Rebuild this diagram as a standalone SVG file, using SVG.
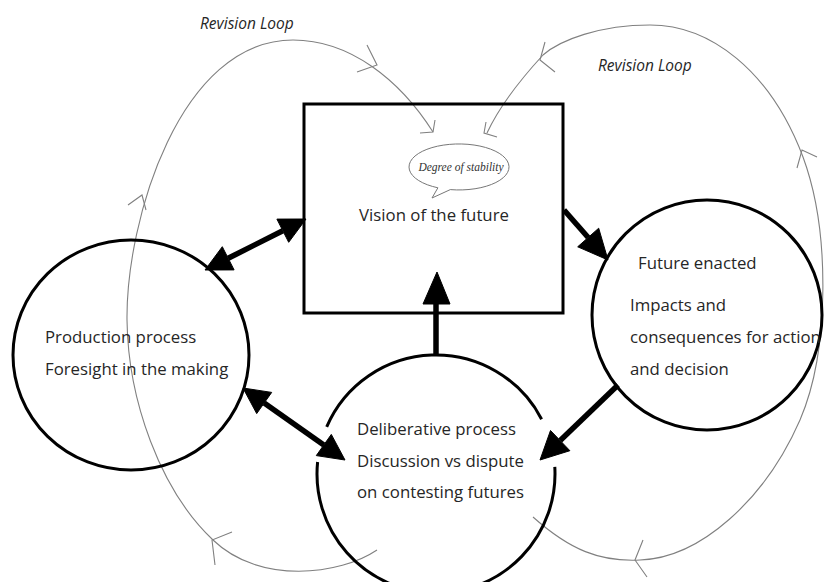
<svg xmlns="http://www.w3.org/2000/svg" width="827" height="582" viewBox="0 0 827 582">
<style>
.node{fill:none;stroke:#000;stroke-width:3}
.loop{fill:none;stroke:#808080;stroke-width:1.1}
.chev{fill:none;stroke:#808080;stroke-width:1.1}
.arrow{stroke:#000;stroke-width:5.5;fill:none}
.head{fill:#000;stroke:#000;stroke-width:1;stroke-linejoin:round}
.lbl{font-family:"Open Sans","Noto Sans","Liberation Sans",sans-serif;font-size:16.8px;fill:#262626}
.loopl{font-family:"Open Sans","Liberation Sans",sans-serif;font-size:15.5px;font-style:italic;fill:#262626}
.small{font-family:"Liberation Serif",serif;font-size:11.5px;font-style:italic;fill:#333}
</style>
<rect width="827" height="582" fill="#fff"/>

<g id="connectors">
  <!-- left revision loop -->
  <path class="loop" d="M 377 550 C 340 575, 260 585, 213 540 C 160 490, 128 400, 127 320 C 126 220, 180 40, 293 40 C 350 40, 400 80, 433 132"/>
  <polyline class="chev" points="435,120 433,132 420,133"/>
  <polyline class="chev" points="367,45 377,65 357,72"/>
  <polyline class="chev" points="128,205 142,195 146,210"/>
  <polyline class="chev" points="232,532 212,540 215,565"/>
  <!-- right revision loop -->
  <path class="loop" d="M 533 517 C 570 550, 600 562, 640 560 C 700 558, 765 500, 800 420 C 830 350, 830 230, 803 157 C 770 70, 710 25, 650 25 C 600 25, 560 40, 543 55 C 520 80, 500 105, 487 133"/>
  <polyline class="chev" points="486,122 484,133 497,137"/>
  <polyline class="chev" points="545,42 540,60 555,72"/>
  <polyline class="chev" points="797,168 802,150 817,157"/>
  <polyline class="chev" points="643,540 635,560 647,577"/>

  <!-- box <-> production -->
  <line class="arrow" x1="282.8" y1="230.7" x2="228.2" y2="258.3"/>
  <polygon class="head" points="306,219 288.7,242.3 276.9,219.1"/>
  <polygon class="head" points="205,270 234.1,269.9 222.3,246.7"/>
  <!-- production <-> deliberative -->
  <line class="arrow" x1="264.2" y1="403" x2="323.8" y2="445"/>
  <polygon class="head" points="243,388 256.7,413.6 271.7,392.4"/>
  <polygon class="head" points="345,460 316.3,455.6 331.3,434.4"/>
  <!-- box -> future enacted -->
  <line class="arrow" x1="564" y1="210" x2="588.2" y2="237.5"/>
  <polygon class="head" points="608,260 577.7,246.8 598.7,228.2"/>
  <!-- future enacted -> deliberative -->
  <line class="arrow" x1="618" y1="385" x2="560.2" y2="440.6"/>
  <polygon class="head" points="540,460 550.5,430.5 569.9,450.7"/>
  <!-- deliberative -> box -->
  <line class="arrow" x1="436" y1="355" x2="436" y2="300"/>
  <polygon class="head" points="437,272 423,304 450,304"/>
</g>

<g id="vision">
  <rect x="304" y="104" width="259" height="209" class="node" stroke-width="3.5"/>
  <path d="M 450.3 189.6 A 50 23 0 1 0 437.9 187.8 L 432 198 Z" fill="#fff" stroke="#777" stroke-width="1"/>
  <text class="small" x="461" y="171" text-anchor="middle">Degree of stability</text>
  <text class="lbl" x="434" y="221" text-anchor="middle">Vision of the future</text>
</g>

<g id="production">
  <ellipse cx="131" cy="355" rx="118" ry="115" class="node"/>
  <text class="lbl" x="45" y="343">Production process</text>
  <text class="lbl" x="45" y="375">Foresight in the making</text>
</g>

<g id="enacted">
  <circle cx="707" cy="315" r="115" class="node"/>
  <text class="lbl" x="638" y="269">Future enacted</text>
  <text class="lbl" x="630" y="311">Impacts and</text>
  <text class="lbl" x="630" y="343">consequences for action</text>
  <text class="lbl" x="630" y="375">and decision</text>
</g>

<g id="deliberative">
  <path class="node" d="M 554.8 466.9 A 119 119 0 1 1 317.6 462.0 M 326.7 426.9 A 119 119 0 0 1 541.6 419.2"/>
  <text class="lbl" x="357" y="435">Deliberative process</text>
  <text class="lbl" x="357" y="467">Discussion vs dispute</text>
  <text class="lbl" x="357" y="498">on contesting futures</text>
</g>

<g id="labels">
  <text class="loopl" x="200" y="29">Revision Loop</text>
  <text class="loopl" x="598" y="71">Revision Loop</text>
</g>
</svg>
